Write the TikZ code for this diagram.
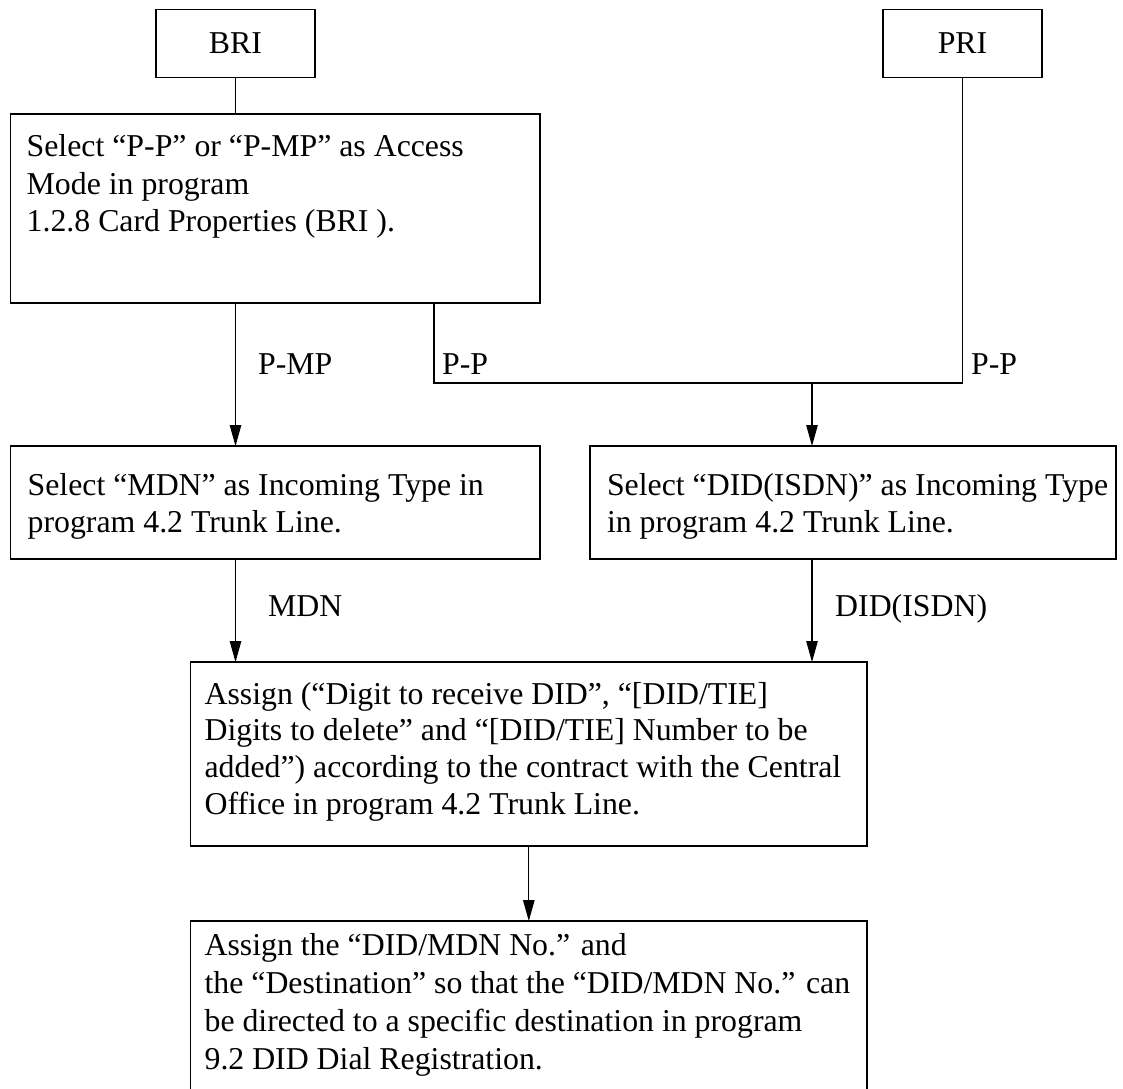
\documentclass[tikz,border=0pt]{standalone}
\usepackage{fontspec}
\setmainfont{Liberation Serif}
\usetikzlibrary{arrows.meta,calc}
% #1 width, #2 height, #3 first-baseline offset, #4 baselineskip, #5 left pad, #6 text
\newcommand\boxtxt[6]{\parbox[c][#2][t]{#1}{\fontsize{31.8pt}{#4}\selectfont\raggedright\leftskip=#5\relax\rule{0pt}{#3}#6}}
\begin{document}
\begin{tikzpicture}[x=1pt,y=-1pt,
  box/.style={draw, line width=1.2pt, inner sep=0pt, outer sep=0pt},
  tbox/.style={box, font=\fontsize{31.8pt}{37.5pt}\selectfont},
  lbl/.style={inner sep=0pt, font=\fontsize{31.8pt}{37.5pt}\selectfont},
  con/.style={line width=1.1pt},
  arr/.style={con, -{Triangle[length=21pt,width=11.5pt]}}]
\useasboundingbox (0,0) rectangle (1123,1088);
\clip (0,0) rectangle (1123,1088);
% top boxes
\node[tbox, minimum width=159pt, minimum height=68.4pt] (bri) at (235.5,43.5) {BRI};
\node[tbox, minimum width=159pt, minimum height=68.4pt] (pri) at (962.5,43.5) {PRI};
% process boxes
\node[box] (b1) at (275.35,208.5) {\boxtxt{529.3pt}{189pt}{42.7pt}{37.5pt}{16pt}{Select “P-P” or “P-MP” as Access\\Mode in program\\1.2.8 Card Properties (BRI ).}};
\node[box] (b2) at (275.35,502.5) {\boxtxt{529.3pt}{113pt}{49pt}{37.5pt}{17pt}{Select “MDN” as Incoming Type in\\program 4.2 Trunk Line.}};
\node[box] (b3) at (853,502.5) {\boxtxt{526pt}{113pt}{49pt}{37.5pt}{17pt}{Select “DID(ISDN)” as Incoming Type\\in program 4.2 Trunk Line.}};
\node[box] (b4) at (528.8,754) {\boxtxt{676.4pt}{184pt}{42pt}{36.7pt}{14pt}{Assign (“Digit to receive DID”, “[DID/TIE]\\Digits to delete” and “[DID/TIE] Number to be\\added”) according to the contract with the Central\\Office in program 4.2 Trunk Line.}};
\node[box] (b5) at (528.8,1008) {\boxtxt{676.4pt}{174pt}{34pt}{38.3pt}{14pt}{Assign the “DID/MDN No.” and\\the “Destination” so that the “DID/MDN No.” can\\be directed to a specific destination in program\\9.2 DID Dial Registration.}};
% helper coordinates
\coordinate (pp) at (434,383);
\coordinate (mid) at (812,383);
% connectors
\draw[con] (bri.south) -- (bri.south |- b1.north);
\draw[arr] (bri.south |- b1.south) -- (bri.south |- b2.north);
\draw[con] (pp |- b1.south) -- (pp) -- (pri.south |- pp) -- (pri.south);
\draw[arr] (mid) -- (mid |- b3.north);
\draw[arr] (bri.south |- b2.south) -- (bri.south |- b4.north);
\draw[arr] (mid |- b3.south) -- (mid |- b4.north);
\draw[arr] (b4.south) -- (b5.north);
% labels
\node[lbl, anchor=base west] (lpmp) at (258,374) {P-MP};
\node[lbl, anchor=base west] (lpp1) at (442,374) {P-P};
\node[lbl, anchor=base west] (lpp2) at (971,374) {P-P};
\node[lbl, anchor=base west] (lmdn) at (268,616) {MDN};
\node[lbl, anchor=base west] (ldid) at (835,616) {DID(ISDN)};
\end{tikzpicture}
\end{document}
